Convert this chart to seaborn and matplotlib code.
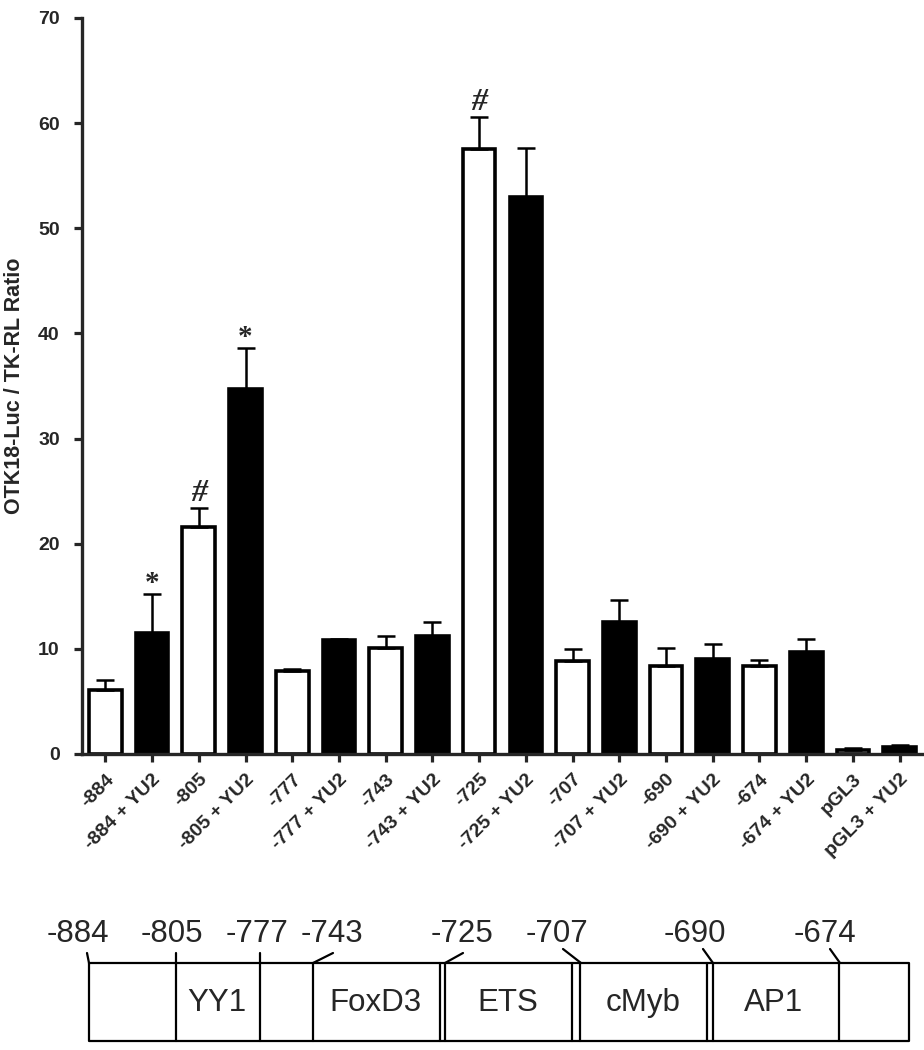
# plot.py
# OTK18 promoter deletion constructs: luciferase ratio bars + promoter schematic

import numpy as np
import pandas as pd
import matplotlib
matplotlib.use('Agg')
import matplotlib.pyplot as plt
import seaborn as sns

# ---------------- data ----------------
constructs = ['-884', '-884 + YU2', '-805', '-805 + YU2', '-777', '-777 + YU2',
              '-743', '-743 + YU2', '-725', '-725 + YU2', '-707', '-707 + YU2',
              '-690', '-690 + YU2', '-674', '-674 + YU2', 'pGL3', 'pGL3 + YU2']
treatment = ['none', 'YU2'] * 9
ratio_mean = [6.1, 11.5, 21.6, 34.7, 7.9, 10.8, 10.1, 11.2, 57.5, 53.0,
              8.85, 12.6, 8.4, 9.0, 8.4, 9.7, 0.4, 0.67]
ratio_sem = [0.9, 3.7, 1.8, 3.9, 0.15, 0.1, 1.1, 1.4, 3.1, 4.6,
             1.15, 2.0, 1.7, 1.5, 0.5, 1.2, 0.15, 0.18]
sig_index = [1, 2, 3, 8]
sig_symbol = ['*', '#', '*', '#']

y_ticks = [0, 10, 20, 30, 40, 50, 60, 70]

# promoter schematic (not to scale)
site_labels = ['-884', '-805', '-777', '-743', '-725', '-707', '-690', '-674']
site_label_x = [78, 172, 257, 332, 462, 557, 695, 825]
region_names = ['YY1', 'FoxD3', 'ETS', 'cMyb', 'AP1']
region_x = [217, 375, 508, 643, 774]

df = pd.DataFrame({'construct': constructs, 'ratio': ratio_mean,
                   'treatment': treatment})

sns.set_style('ticks')
plt.rcParams['font.family'] = ['Liberation Sans', 'DejaVu Sans']

fig = plt.figure(figsize=(9.24, 10.5), dpi=100)
W, H = 924, 1050
ax = fig.add_axes([82 / W, 1 - 754 / H, (923 - 82) / W, (754 - 18) / H])

sns.barplot(data=df, x='construct', y='ratio', hue='treatment',
            palette={'none': 'white', 'YU2': 'black'}, dodge=False,
            width=0.7, edgecolor='black', linewidth=2.6, legend=False,
            errorbar=None, ax=ax)

# upper error bars only (SEM)
xpos = np.arange(len(constructs))
ax.errorbar(xpos, ratio_mean, yerr=[np.zeros(len(xpos)), ratio_sem],
            fmt='none', ecolor='black', elinewidth=1.8, capsize=6.5,
            capthick=1.8, zorder=3)

# significance marks
for i, s in zip(sig_index, sig_symbol):
    top = ratio_mean[i] + ratio_sem[i]
    if s == '*':
        ax.annotate(s, (i, top), xytext=(0, 2), textcoords='offset points',
                    ha='center', va='baseline', fontsize=21,
                    family='Liberation Serif', fontweight='bold')
    else:
        ax.annotate(s, (i, top), xytext=(0, 5), textcoords='offset points',
                    ha='center', va='baseline', fontsize=23,
                    family='Liberation Serif', fontweight='bold',
                    fontstyle='italic')

ax.set_xlim(-0.5, len(constructs) - 0.5)
ax.set_ylim(0, 70)
ax.set_yticks(y_ticks)
ax.set_xlabel('')
ax.set_ylabel('OTK18-Luc / TK-RL Ratio', fontsize=15.5, fontweight='bold')
ax.yaxis.set_label_coords(-0.068, 0.5)

sns.despine(ax=ax)
for side in ['left', 'bottom']:
    ax.spines[side].set_linewidth(2.4)
ax.tick_params(axis='both', width=2.3, length=6, direction='out')
ax.tick_params(axis='y', pad=10, labelsize=14)
ax.tick_params(axis='x', pad=6, labelsize=14)
for lab in ax.get_yticklabels():
    lab.set_fontweight('bold')
for lab in ax.get_xticklabels():
    lab.set_fontweight('bold')
    lab.set_rotation(45)
    lab.set_ha('right')
    lab.set_rotation_mode('anchor')

# ---------------- promoter schematic ----------------
ax2 = fig.add_axes([0, 0, 1, 200 / H])
ax2.set_xlim(0, W)
ax2.set_ylim(1050, 850)
ax2.axis('off')

lw = 1.6
box_l, box_r, box_t, box_b = 89, 909, 963, 1041
ax2.plot([box_l, box_r, box_r, box_l, box_l],
         [box_t, box_t, box_b, box_b, box_t], color='black', lw=lw)

# dividers: x positions of vertical lines
dividers = [176, 260, 313, 440, 445, 572, 580, 707, 713, 839]
for dx in dividers:
    ax2.plot([dx, dx], [box_t, box_b], color='black', lw=lw)

# leader lines from each site label to the box
leader_from = [(87, 953), (176, 953), (260, 953), (333, 953), (463, 953),
               (563, 949), (703, 949), (830, 949)]
leader_to = [(89, 963), (176, 963), (260, 963), (313, 963), (445, 963),
             (581, 963), (713, 963), (840, 963)]
for (x0, y0), (x1, y1) in zip(leader_from, leader_to):
    ax2.plot([x0, x1], [y0, y1], color='black', lw=lw)

for lab, lx in zip(site_labels, site_label_x):
    ax2.text(lx, 934, lab, ha='center', va='center', fontsize=22.5)
for name, rx in zip(region_names, region_x):
    ax2.text(rx, 1003, name, ha='center', va='center', fontsize=22.5)

fig.savefig('out.png', dpi=100)
